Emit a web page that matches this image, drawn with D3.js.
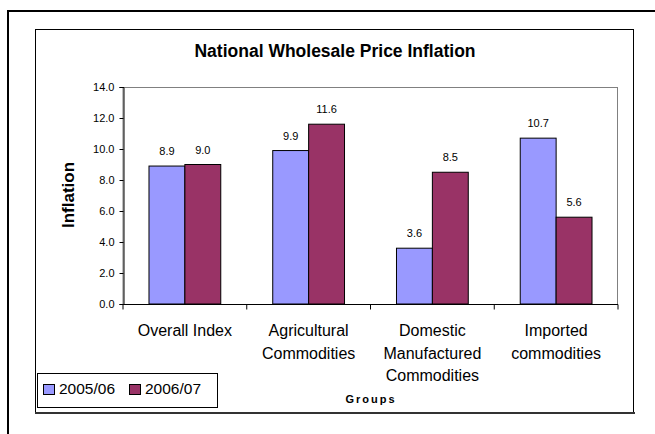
<!DOCTYPE html>
<html><head><meta charset="utf-8">
<script src="https://cdn.jsdelivr.net/npm/d3@7"></script>
<style>body{margin:0;background:#fff}svg{display:block}text{font-family:"Liberation Sans",Arial,sans-serif}</style>
</head><body>
<svg id="c" width="655" height="434"></svg>
<script>
const categories = [["Overall Index"],["Agricultural","Commodities"],["Domestic","Manufactured","Commodities"],["Imported","commodities"]];
const seriesNames = ["2005/06","2006/07"];
const series2005 = [8.9, 9.9, 3.6, 10.7];
const series2006 = [9.0, 11.6, 8.5, 5.6];
const yTicks = [0,2,4,6,8,10,12,14];
const colors = ["#9999FF","#993366"];

const svg = d3.select("#c");
// outer frame
svg.append("rect").attr("x",8).attr("y",11).attr("width",700).attr("height",500)
  .attr("fill","none").attr("stroke","#000").attr("stroke-width",2);
// inner chart box
svg.append("rect").attr("x",35.5).attr("y",29.5).attr("width",598).attr("height",383)
  .attr("fill","#fff").attr("stroke","#000").attr("stroke-width",1);
svg.append("line").attr("x1",35).attr("x2",635).attr("y1",413).attr("y2",413)
  .attr("stroke","#333").attr("stroke-width",2);

const L=123, R=618, T=87, B=304;
const x = d3.scaleBand().domain(d3.range(categories.length)).range([L,R]).paddingInner(0.42).paddingOuter(0.21);
const xs = d3.scaleBand().domain([0,1]).range([0,x.bandwidth()]);
const y = d3.scaleLinear().domain([0,14]).range([B,T]);

// plot area border
svg.append("rect").attr("x",L).attr("y",T+0.5).attr("width",R-L-0.5).attr("height",B-T)
  .attr("fill","none").attr("stroke","#808080").attr("stroke-width",1);

const data = categories.map((c,i)=>({i, vals:[series2005[i],series2006[i]]}));
const g = svg.append("g");
data.forEach(d=>{
  d.vals.forEach((v,k)=>{
    const bx = x(d.i)+xs(k);
    g.append("rect").attr("x",bx).attr("y",y(v)).attr("width",xs.bandwidth()).attr("height",B-y(v))
      .attr("fill",colors[k]).attr("stroke","#000").attr("stroke-width",1);
    g.append("text").attr("x",bx+xs.bandwidth()/2).attr("y",y(v)-11).attr("text-anchor","middle")
      .attr("font-size",11).attr("fill","#000").text(v.toFixed(1));
  });
});

// y axis
const yAxis = d3.axisLeft(y).tickValues(yTicks).tickSize(4).tickFormat(d3.format(".1f"));
const ya = svg.append("g").attr("transform",`translate(${L+0.5},0)`).call(yAxis);
ya.select(".domain").attr("stroke","#000");
ya.selectAll("text").attr("font-size",11).attr("font-family","Liberation Sans, Arial, sans-serif").attr("fill","#000").attr("dx",-2);

// x axis
const xa = svg.append("g").attr("transform",`translate(0,${B+0.5})`);
xa.append("line").attr("x1",L).attr("x2",R).attr("stroke","#000");
d3.range(categories.length+1).forEach(j=>{
  const tx = L + j*(R-L)/categories.length;
  xa.append("line").attr("x1",tx).attr("x2",tx).attr("y1",0).attr("y2",5).attr("stroke","#000");
});
categories.forEach((lines,i)=>{
  const t = svg.append("text").attr("text-anchor","middle").attr("font-size",16).attr("fill","#000");
  lines.forEach((ln,k)=>{
    t.append("tspan").attr("x",x(i)+x.bandwidth()/2).attr("y",336+k*22.5).text(ln);
  });
});

// titles
svg.append("text").attr("x",335).attr("y",57).attr("text-anchor","middle").attr("font-size",17.5)
  .attr("font-weight","bold").text("National Wholesale Price Inflation");
svg.append("text").attr("transform","translate(74,195) rotate(-90)").attr("text-anchor","middle")
  .attr("font-size",17).attr("font-weight","bold").text("Inflation");
svg.append("text").attr("x",371).attr("y",403).attr("text-anchor","middle").attr("font-size",11)
  .attr("font-weight","bold").attr("letter-spacing",2).text("Groups");

// legend
const lg = svg.append("g");
lg.append("rect").attr("x",37.5).attr("y",373.5).attr("width",180).attr("height",34)
  .attr("fill","#fff").attr("stroke","#000");
const lx=[43,129];
seriesNames.forEach((n,k)=>{
  lg.append("rect").attr("x",lx[k]+0.5).attr("y",384.5).attr("width",11).attr("height",10)
    .attr("fill",colors[k]).attr("stroke","#000");
  lg.append("text").attr("x",lx[k]+16).attr("y",394).attr("font-size",15.5).text(n);
});
</script>
</body></html>
